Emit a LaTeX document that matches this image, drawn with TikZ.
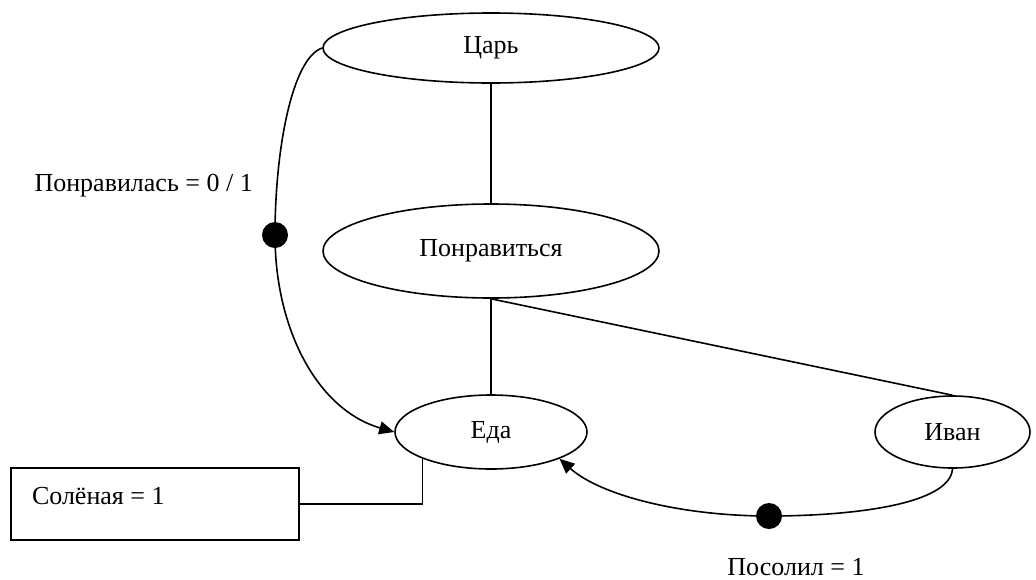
\documentclass[tikz,border=0pt]{standalone}
\usepackage{fontspec}
\setmainfont{Liberation Serif}
\usetikzlibrary{shapes.geometric,arrows.meta}
\begin{document}
\begin{tikzpicture}[x=1pt,y=-1pt,
  every node/.style={font=\fontsize{26}{30}\selectfont},
  line/.style={line width=1.6pt},
  ell/.style={draw,line width=1.6pt,ellipse,inner sep=0pt},
  dotn/.style={circle,fill=black,inner sep=0pt,minimum size=26pt},
  tip/.style={-{Triangle[length=15pt,width=13pt]}}
]
\useasboundingbox (0,0) rectangle (1036,579);
\node[ell,minimum width=336pt,minimum height=70pt] (tsar) at (491,48) {Царь};
\node[ell,minimum width=336pt,minimum height=94pt] (like) at (491,251) {Понравиться};
\node[ell,minimum width=192pt,minimum height=74pt] (eda) at (491,432) {Еда};
\node[ell,minimum width=155pt,minimum height=72pt] (ivan) at (952.5,432) {Иван};
\node[draw,line width=1.6pt,rectangle,minimum width=288pt,minimum height=72pt,
      text width=246pt,align=flush left,inner xsep=21pt,inner ysep=0pt,
      text height=18pt,text depth=18pt] (salt) at (155,504) {Солёная = 1};
\node[dotn] (d1) at (275,235) {};
\node[dotn] (d2) at (769,516) {};
\node[anchor=base west] (l1) at (31,191) {Понравилась = 0 / 1};
\node[anchor=base] (l2) at (796,575) {Посолил = 1};

\draw[line] (tsar.south) -- (like.north);
\draw[line] (like.south) -- (eda.north);
\draw[line] (like.south) -- (ivan.north);
\draw[line] (salt.east) -| (eda.south west);
\draw[line] (tsar.west) .. controls (292,58) and (275,150) .. (d1.center);
\draw[line,tip] (d1.center) .. controls (275,330) and (318,410) .. (eda.west);
\draw[line] (ivan.south) .. controls (950,505) and (850,516) .. (d2.center);
\draw[line,tip] (d2.center) .. controls (680,516) and (600,495) .. (eda.south east);
\end{tikzpicture}
\end{document}
